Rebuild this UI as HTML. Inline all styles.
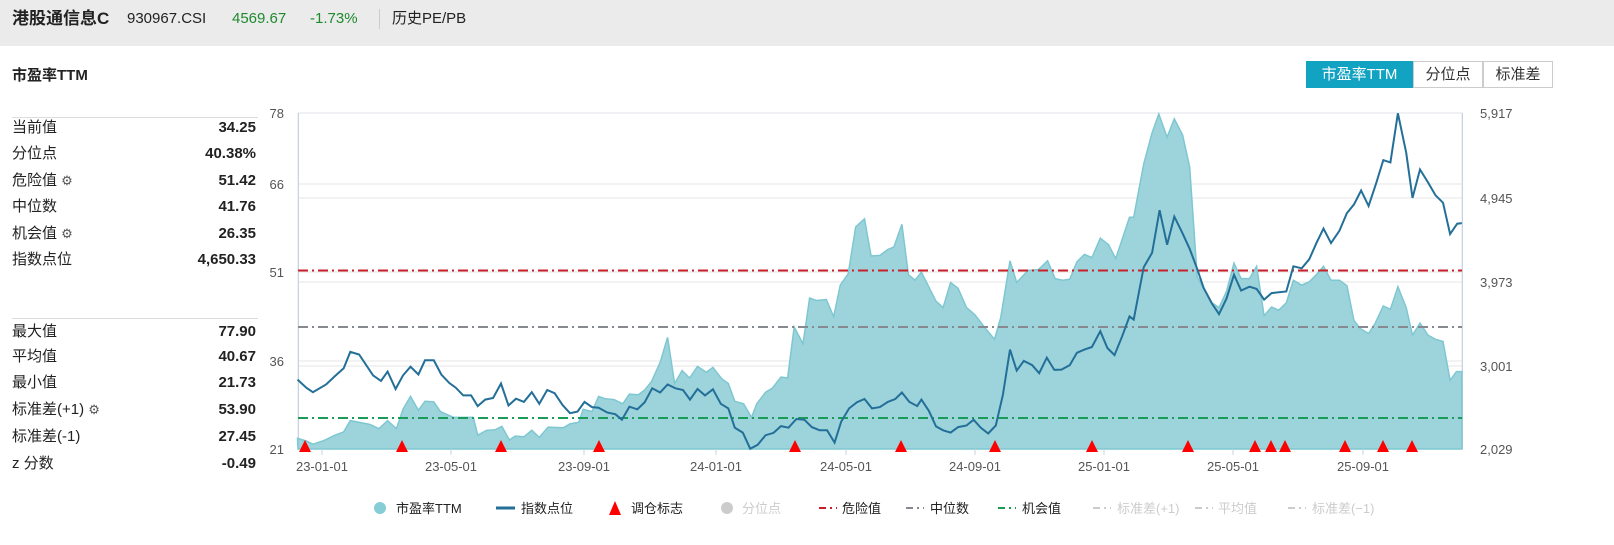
<!DOCTYPE html>
<html><head><meta charset="utf-8">
<style>
*{margin:0;padding:0;box-sizing:border-box}
body{width:1614px;height:545px;overflow:hidden;background:#fff;font-family:"Liberation Sans","Noto Sans CJK SC",sans-serif;color:#222;position:relative}
.hdr{position:absolute;left:0;top:0;width:1614px;height:46px;background:#ebebeb}
.abs{position:absolute;white-space:nowrap}
.row{position:absolute;left:12px;width:244px;font-size:15px;height:20px;line-height:20px}
.row .v{position:absolute;right:0;top:0;font-weight:bold;line-height:20px}
.btn{position:absolute;top:61px;height:27px;font-size:15px;line-height:25px;text-align:center;border:1px solid #ccc;color:#333}
.hl{position:absolute;top:8px;line-height:22px;font-size:15px;white-space:nowrap}
</style></head><body>
<div class="hdr"></div>
<div class="hl" style="left:12px;font-size:17px;font-weight:bold">港股通信息C</div>
<div class="hl" style="left:127px">930967.CSI</div>
<div class="hl" style="left:232px;color:#1e8a2e">4569.67</div>
<div class="hl" style="left:310px;color:#1e8a2e">-1.73%</div>
<div class="abs" style="left:379px;top:9px;width:1px;height:20px;background:#ccc"></div>
<div class="hl" style="left:392px">历史PE/PB</div>
<div class="abs" style="left:12px;top:64px;font-size:15px;font-weight:bold">市盈率TTM</div>
<div class="btn" style="left:1306px;width:107px;background:#12a3c2;border-color:#12a3c2;color:#fff">市盈率TTM</div>
<div class="btn" style="left:1413px;width:70px">分位点</div>
<div class="btn" style="left:1483px;width:70px">标准差</div>
<div class="abs" style="left:12px;top:117px;width:246px;height:1px;background:#ddd"></div>
<div class="abs" style="left:12px;top:318px;width:246px;height:1px;background:#ddd"></div>
<div class="row" style="top:118px">当前值<span class="v">34.25</span></div>
<div class="row" style="top:144px">分位点<span class="v">40.38%</span></div>
<div class="row" style="top:171px">危险值 <span style="font-size:13px;color:#555">⚙</span><span class="v">51.42</span></div>
<div class="row" style="top:197px">中位数<span class="v">41.76</span></div>
<div class="row" style="top:224px">机会值 <span style="font-size:13px;color:#555">⚙</span><span class="v">26.35</span></div>
<div class="row" style="top:250px">指数点位<span class="v">4,650.33</span></div>
<div class="row" style="top:322px">最大值<span class="v">77.90</span></div>
<div class="row" style="top:347px">平均值<span class="v">40.67</span></div>
<div class="row" style="top:373px">最小值<span class="v">21.73</span></div>
<div class="row" style="top:400px">标准差(+1) <span style="font-size:13px;color:#555">⚙</span><span class="v">53.90</span></div>
<div class="row" style="top:427px">标准差(-1)<span class="v">27.45</span></div>
<div class="row" style="top:454px">z 分数<span class="v">-0.49</span></div>
<svg id="ch" class="abs" style="left:0;top:0" width="1614" height="545" xmlns="http://www.w3.org/2000/svg"></svg>
<script>
var pe2=[115,1055,135,1063,150,1073,175,1062,200,1045,220,1035,235,1000,280,1012,300,1025,320,1000,340,1025,355,965,372,925,390,968,405,940,425,942,440,972,470,990,515,990,525,1045,545,1030,565,1028,580,1018,597,1060,610,1048,630,1050,648,1030,665,1052,685,1020,720,1022,735,1010,755,1005,765,965,785,972,800,925,815,932,835,935,855,948,870,918,890,920,905,905,920,880,940,820,957,742,973,885,990,845,1007,868,1025,832,1045,850,1060,835,1080,870,1095,885,1110,940,1130,948,1148,990,1160,948,1180,912,1195,900,1215,865,1230,868,1245,710,1265,762,1280,620,1295,628,1318,625,1335,678,1350,580,1368,545,1385,400,1405,375,1420,490,1440,488,1458,470,1472,462,1490,392,1505,548,1520,565];
var pe3=[20,540,55,630,72,650,90,572,108,590,128,650,148,672,172,712,195,748,210,680,232,505,248,572,275,535,300,532,322,505,340,560,358,565,375,562,392,508,410,485,428,495,448,435,468,455,485,498,500,440,518,370,528,370,552,205,572,108,588,50,608,122,625,65,645,115,662,215,680,555,695,590,715,635,732,650,750,600,768,512,785,560,805,560,822,522,840,675,858,648,875,658,893,635,910,565,930,580,948,570,965,548,982,522,1000,565,1020,565,1038,582,1055,690,1070,715,1090,730,1105,700,1125,645,1142,655,1160,585,1180,650,1195,735,1213,698,1232,735,1250,748,1268,755,1285,875,1300,848,1313,848];
var ix2=[115,873,135,898,150,912,180,888,200,862,220,838,235,787,255,795,287,860,305,877,320,848,338,902,355,860,372,833,390,857,405,813,425,813,442,857,460,883,475,898,492,922,510,922,525,955,542,935,560,930,578,885,595,953,612,932,630,942,648,912,665,948,683,905,700,915,718,952,735,977,752,972,768,942,785,958,800,960,820,975,838,980,853,997,870,957,888,965,905,943,922,900,940,913,957,888,975,900,992,905,1008,935,1025,902,1042,922,1060,903,1078,948,1095,962,1110,1022,1128,1037,1145,1087,1162,1075,1180,1045,1198,1038,1215,1017,1232,1022,1250,995,1268,997,1285,1020,1303,1030,1320,1030,1337,1068,1352,1003,1370,962,1388,943,1405,933,1422,962,1440,958,1458,942,1475,933,1490,913,1507,942,1525,955];
var ix3=[20,935,38,970,55,1018,72,1030,90,1037,108,1020,128,1015,145,997,162,1022,180,1040,198,1015,215,920,232,780,248,845,265,815,285,828,302,853,320,805,338,843,355,842,375,828,392,790,410,780,428,772,448,723,465,775,482,797,500,740,518,677,528,687,552,525,572,480,590,348,608,455,625,368,645,420,662,468,680,530,695,588,715,637,732,670,750,622,768,548,785,597,805,585,822,592,840,625,858,605,875,602,893,600,910,522,930,528,948,500,965,450,982,405,1000,450,1020,412,1038,357,1055,330,1072,287,1090,335,1108,265,1125,193,1142,200,1160,48,1180,170,1195,310,1213,222,1232,262,1250,302,1268,325,1285,422,1302,390,1313,388];
function Y(v){return 113+(v-47)*0.3228}
function pts(a,b){var r=[];for(var i=0;i<a.length;i+=2)r.push([247+0.4395*a[i],Y(a[i+1])]);for(var i=0;i<b.length;i+=2)r.push([913+0.418*b[i],Y(b[i+1])]);return r}
var pe=pts(pe2,pe3),ix=pts(ix2,ix3);
function d(p){return p.map(function(q,i){return(i?'L':'M')+q[0].toFixed(1)+','+q[1].toFixed(1)}).join('')}
var s='';
s+='<rect x="298" y="113" width="1164" height="336" fill="#fff" stroke="#dfe3ea"/>';
[184,198,272,282,361,366].forEach(function(y){s+='<line x1="298" x2="1462" y1="'+y+'" y2="'+y+'" stroke="#e4e4e4"/>'});
s+='<line x1="298.5" x2="298.5" y1="113" y2="449" stroke="#c8d2e0"/><line x1="1462.5" x2="1462.5" y1="113" y2="449" stroke="#c8d2e0"/>';
s+='<path d="'+d(pe)+'L1462,449L298,449Z" fill="#9dd4dc" stroke="#7ec7d1" stroke-width="1.5"/>';
function hl(y,c){s+='<line x1="298" x2="1462" y1="'+y+'" y2="'+y+'" stroke="'+c+'" stroke-width="2" stroke-dasharray="10,4,2,4"/>'}
hl(270.5,'#c8202a');hl(327,'#868a90');hl(418,'#1a9c58');
s+='<path d="'+d(ix)+'" fill="none" stroke="#236f98" stroke-width="2"/>';
[305,402,501,599,795,901,995,1092,1188,1255,1271,1285,1345,1383,1412].forEach(function(x){s+='<polygon points="'+(x-6)+',452 '+(x+6)+',452 '+x+',440" fill="#f00"/>'});
var ly=[[78,113],[66,184],[51,272],[36,361],[21,449]];
ly.forEach(function(a){s+='<text x="284" y="'+(a[1]+5)+'" font-size="13" fill="#555" text-anchor="end">'+a[0]+'</text>'});
var ry=[['5,917',113],['4,945',198],['3,973',282],['3,001',366],['2,029',449]];
ry.forEach(function(a){s+='<text x="1480" y="'+(a[1]+5)+'" font-size="13" fill="#555">'+a[0]+'</text>'});
var xt=[[322,'23-01-01'],[451,'23-05-01'],[584,'23-09-01'],[716,'24-01-01'],[846,'24-05-01'],[975,'24-09-01'],[1104,'25-01-01'],[1233,'25-05-01'],[1363,'25-09-01']];
xt.forEach(function(a){s+='<line x1="'+a[0]+'" x2="'+a[0]+'" y1="449" y2="455" stroke="#c8d2e0"/><text x="'+a[0]+'" y="471" font-size="13" fill="#555" text-anchor="middle">'+a[1]+'</text>'});
var L=508;
function lt(x,t,c){s+='<text x="'+x+'" y="'+(L+5)+'" font-size="13" fill="'+c+'">'+t+'</text>'}
s+='<circle cx="380" cy="'+L+'" r="6" fill="#86cdd6"/>';lt(396,'市盈率TTM','#222');
s+='<line x1="496" x2="515" y1="'+L+'" y2="'+L+'" stroke="#236f98" stroke-width="3"/>';lt(521,'指数点位','#222');
s+='<polygon points="609,'+(L+7)+' 621,'+(L+7)+' 615,'+(L-7)+'" fill="#f00"/>';lt(631,'调仓标志','#222');
s+='<circle cx="727" cy="'+L+'" r="6" fill="#ccc"/>';lt(742,'分位点','#ccc');
function ld(x,c){s+='<line x1="'+x+'" x2="'+(x+18)+'" y1="'+L+'" y2="'+L+'" stroke="'+c+'" stroke-width="2" stroke-dasharray="7,4,2,4"/>'}
ld(819,'#c8202a');lt(842,'危险值','#222');
ld(906,'#868a90');lt(930,'中位数','#222');
ld(998,'#1a9c58');lt(1022,'机会值','#222');
ld(1093,'#ccc');lt(1117,'标准差(+1)','#ccc');
ld(1195,'#ccc');lt(1218,'平均值','#ccc');
ld(1288,'#ccc');lt(1312,'标准差(−1)','#ccc');
document.getElementById('ch').innerHTML=s;
</script>
</body></html>
